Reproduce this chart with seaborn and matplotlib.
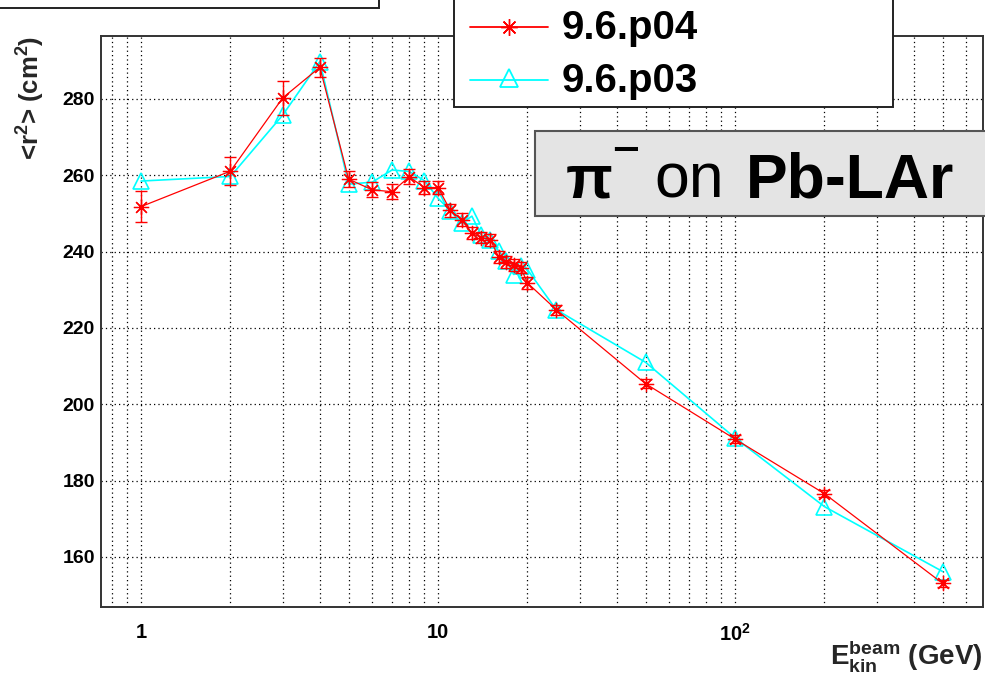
import numpy as np
import pandas as pd
import matplotlib
matplotlib.use("Agg")
import matplotlib.pyplot as plt
import matplotlib.ticker as mt
from matplotlib.patches import Rectangle
from matplotlib.lines import Line2D
import seaborn as sns

# ---------------- data ----------------
energy = [1, 2, 3, 4, 5, 6, 7, 8, 9, 10, 11, 12, 13, 14, 15, 16, 17, 18, 19, 20,
          25, 50, 100, 200, 500]
r2_p04 = [251.8, 261.1, 280.3, 288.3, 259.0, 256.2, 255.7, 259.6, 256.8, 256.8,
          250.8, 248.4, 244.8, 243.7, 243.1, 238.6, 237.3, 236.5, 235.8, 231.8,
          224.8, 205.4, 190.9, 176.6, 153.1]
r2_p04_err = [4.0, 3.7, 4.4, 2.5, 2.0, 2.0, 2.0, 2.0, 1.8, 1.8,
              1.6, 1.6, 1.6, 1.5, 1.5, 1.5, 1.5, 1.5, 1.5, 1.5,
              1.3, 1.2, 1.0, 1.0, 1.0]
r2_p03 = [258.5, 259.7, 275.8, 289.8, 257.7, 258.2, 261.4, 261.0, 258.6, 254.0,
          250.7, 247.4, 249.3, 244.3, 243.0, 240.2, 237.6, 234.0, 236.3, 235.3,
          224.8, 211.0, 191.2, 173.2, 156.2]
series_names = ["9.6.p04", "9.6.p03"]
x_tick_values = [1, 10, 100]
x_tick_labels = ["1", "10", "10$^{2}$"]
y_label = "<r$^{2}$> (cm$^{2}$)"
x_label = "E$_{kin}^{beam}$ (GeV)"
title_parts = ["\u03c0", "\u2012", "on", "Pb-LAr"]

# ---------------- style ----------------
sns.set_style("white")
plt.rcParams["font.family"] = ["Liberation Sans", "DejaVu Sans"]
plt.rcParams["font.weight"] = "bold"
plt.rcParams["mathtext.fontset"] = "custom"
plt.rcParams["mathtext.rm"] = "Liberation Sans:bold"
plt.rcParams["mathtext.bf"] = "Liberation Sans:bold"
plt.rcParams["mathtext.it"] = "Liberation Sans:bold"
plt.rcParams["mathtext.sf"] = "Liberation Sans:bold"

W, H = 985, 680
fig = plt.figure(figsize=(W / 100, H / 100), dpi=100)
fig.patch.set_facecolor("white")
ax = fig.add_axes([101 / W, 73 / H, 882 / W, 571 / H])

df04 = pd.DataFrame({"E": energy, "r2": r2_p04})
df03 = pd.DataFrame({"E": energy, "r2": r2_p03})

red = "#ff0000"
cyan = "#00ffff"

sns.lineplot(data=df03, x="E", y="r2", ax=ax, color=cyan, lw=1.2,
             marker="^", markersize=12, markerfacecolor="none",
             markeredgecolor=cyan, markeredgewidth=1.2, errorbar=None,
             zorder=3)
ax.errorbar(energy, r2_p04, yerr=r2_p04_err, fmt="none", ecolor=red,
            elinewidth=1.0, capsize=4.2, capthick=1.0, zorder=4)
sns.lineplot(data=df04, x="E", y="r2", ax=ax, color=red, lw=0.9,
             marker=(8, 2, 0), markersize=11, markeredgecolor=red,
             markeredgewidth=0.9, errorbar=None, zorder=5)

ax.set_xscale("log")
ax.set_xlim(0.733, 684)
ax.set_ylim(146.9, 296.5)

ax.xaxis.set_major_locator(mt.FixedLocator(x_tick_values))
ax.xaxis.set_major_formatter(mt.FixedFormatter(x_tick_labels))
ax.xaxis.set_minor_locator(mt.LogLocator(base=10, subs=np.arange(2, 10), numticks=50))
ax.xaxis.set_minor_formatter(mt.NullFormatter())
ax.yaxis.set_major_locator(mt.MultipleLocator(20))
ax.yaxis.set_minor_locator(mt.MultipleLocator(5))

ax.tick_params(axis="x", which="major", direction="in", length=11, width=1.1,
               pad=11.5, labelsize=14.5, top=False, colors="#222222")
ax.tick_params(axis="x", which="minor", direction="in", length=5.8, width=1.0,
               top=False, colors="#222222")
ax.tick_params(axis="y", which="major", direction="in", length=21, width=1.1,
               pad=4.5, labelsize=14, right=False, colors="#222222")
ax.tick_params(axis="y", which="minor", direction="in", length=10.8, width=1.0,
               right=False, colors="#222222")
for lab in ax.get_xticklabels() + ax.get_yticklabels():
    lab.set_color("black")

grid_kw = dict(color="black", lw=0.9, ls=(0, (1, 2.5)))
ax.grid(True, which="both", axis="x", **grid_kw)
ax.grid(True, which="major", axis="y", **grid_kw)
ax.set_axisbelow(True)
for sp in ax.spines.values():
    sp.set_linewidth(1.4)
    sp.set_color("#333333")

ax.set_ylabel(y_label, fontsize=18.5, fontweight="bold", loc="top")
ax.yaxis.set_label_coords((31 - 101) / 882, 1.0)
ax.yaxis.label.set_va("center")
ax.set_xlabel(x_label, fontsize=20, fontweight="bold", loc="right")
ax.xaxis.set_label_coords(1.0, -(656 - 607) / 571)
ax.xaxis.label.set_va("center")

# ---------------- overlay (legend, boxes) in pixel coordinates ----------------
ov = fig.add_axes([0, 0, 1, 1], zorder=10)
ov.set_xlim(0, W)
ov.set_ylim(H, 0)
ov.axis("off")
ov.patch.set_visible(False)

# cropped box at top-left
ov.add_patch(Rectangle((-3, -30), 382, 38, facecolor="white",
                       edgecolor="#222222", lw=1.4))

# legend
ov.add_patch(Rectangle((454, -30), 439, 137, facecolor="white",
                       edgecolor="#222222", lw=1.4))
ov.add_line(Line2D([470, 548], [27, 27], color=red, lw=1.3))
ov.add_line(Line2D([509], [27], color=red, marker=(8, 2, 0), markersize=12,
                   markeredgecolor=red, markeredgewidth=1.0, ls="none"))
ov.add_line(Line2D([470, 548], [80, 80], color=cyan, lw=1.3))
ov.add_line(Line2D([509], [78], color=cyan, marker="^", markersize=13,
                   markerfacecolor="none", markeredgecolor=cyan,
                   markeredgewidth=1.3, ls="none"))
ov.text(562, 39, series_names[0], fontsize=29, fontweight="bold",
        ha="left", va="baseline", color="black")
ov.text(562, 92, series_names[1], fontsize=29, fontweight="bold",
        ha="left", va="baseline", color="black")

# title box
ov.add_patch(Rectangle((535, 131), 460, 85, facecolor="#e4e4e4",
                       edgecolor="#555555", lw=1.5))
ov.text(566, 197, title_parts[0], fontsize=44, fontweight="bold",
        ha="left", va="baseline", color="black")
ov.text(626, 149, title_parts[1], fontsize=30, fontweight="bold",
        ha="center", va="center", color="black")
ov.text(654, 197, title_parts[2], fontsize=45, fontweight="normal",
        ha="left", va="baseline", color="black")
ov.text(746, 197, title_parts[3], fontsize=45, fontweight="bold",
        ha="left", va="baseline", color="black")

fig.savefig("out.png", dpi=100, facecolor="white")
